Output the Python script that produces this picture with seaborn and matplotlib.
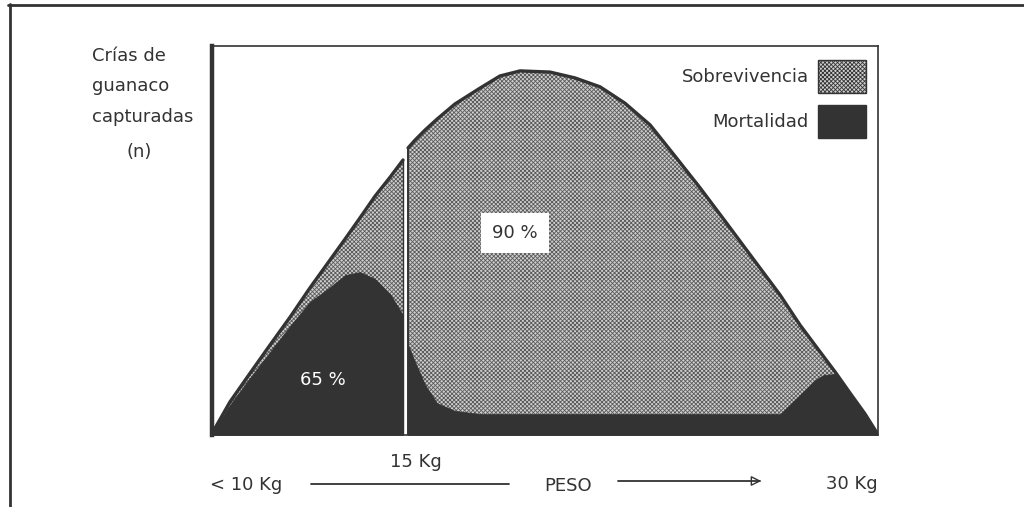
import matplotlib
matplotlib.use("Agg")
import matplotlib.pyplot as plt
import seaborn as sns
from matplotlib.patches import Patch
from matplotlib.lines import Line2D

# Datos (peso en kg, crias capturadas en escala relativa 0-100)
peso_izq = [8.87, 9.41, 10.05, 10.68, 11.32, 11.95, 12.59, 13.07, 13.54, 14.02, 14.50, 14.91]
total_izq = [0.8, 8.5, 15.9, 23.1, 30.3, 37.8, 45.0, 50.4, 55.8, 61.4, 66.3, 70.7]
mort_izq = [0.8, 7.7, 14.7, 21.3, 28.0, 34.2, 38.0, 41.1, 41.9, 40.1, 36.2, 30.8]

peso_der = [15.07, 15.29, 15.61, 15.99, 16.56, 17.36, 17.99, 18.63, 19.58, 20.37, 21.17,
            21.96, 22.76, 23.55, 24.35, 25.14, 25.94, 26.89, 27.52, 28.00, 28.26, 28.64,
            29.11, 29.59, 29.97]
total_der = [73.8, 75.8, 78.4, 81.2, 85.1, 89.2, 92.3, 93.6, 93.3, 91.8, 89.5,
             85.3, 79.7, 71.7, 63.5, 55.0, 46.3, 36.0, 28.3, 23.1, 20.3, 16.2,
             10.8, 5.4, 0.5]
mort_der = [23.1, 18.8, 12.9, 8.2, 6.2, 5.4, 5.4, 5.4, 5.4, 5.4, 5.4,
            5.4, 5.4, 5.4, 5.4, 5.4, 5.4, 5.4, 10.3, 14.1, 15.4, 15.7,
            10.8, 5.4, 0.5]

pct_mort = "65 %"
pct_sobre = "90 %"
etiquetas_leyenda = ["Sobrevivencia", "Mortalidad"]
ylabel_lineas = ["Crías de", "guanaco", "capturadas"]

OSCURO = "#333333"
CLARO = "#cfcfcf"
TRAMA = "xxxxxxxx"

sns.set_theme(style="white")
plt.rcParams["font.family"] = ["DejaVu Sans"]
plt.rcParams["hatch.linewidth"] = 0.6
plt.rcParams["hatch.color"] = "#5a5a5a"

W, H = 1024, 507
fig = plt.figure(figsize=(W / 100, H / 100), dpi=100)
fig.patch.set_facecolor("white")


def fx(p):
    return p / W


def fy(p):
    return 1 - p / H


ax = fig.add_axes([fx(212), fy(435), 666 / W, 389 / H])
ax.set_xlim(8.84, 30.0)
ax.set_ylim(0, 100)
ax.set_xticks([])
ax.set_yticks([])

# sobrevivencia (trama) y mortalidad (oscuro)
for xs, tot, mort in [(peso_izq, total_izq, mort_izq), (peso_der, total_der, mort_der)]:
    ax.fill_between(xs, 0, tot, facecolor=CLARO, hatch=TRAMA, edgecolor="#5a5a5a", linewidth=0)
    ax.fill_between(xs, 0, mort, facecolor=OSCURO, edgecolor=OSCURO, linewidth=0.5)
    sns.lineplot(x=xs, y=tot, color=OSCURO, linewidth=2.4, ax=ax, sort=False,
                 estimator=None, legend=False)

# bordes verticales a ambos lados del corte de 15 kg
ax.vlines(peso_izq[-1], 0, total_izq[-1], color=OSCURO, linewidth=1.0)
ax.vlines(peso_der[0], 0, total_der[0], color=OSCURO, linewidth=1.4)

for s in ["top", "right", "bottom"]:
    ax.spines[s].set_color(OSCURO)
    ax.spines[s].set_linewidth(1.2)
ax.spines["left"].set_color(OSCURO)
ax.spines["left"].set_linewidth(3.2)

ax.text(fx(323), fy(380), pct_mort, transform=fig.transFigure, color="white",
        fontsize=13, ha="center", va="center")
ax.text(fx(515), fy(233), pct_sobre, transform=fig.transFigure, color=OSCURO,
        fontsize=13, ha="center", va="center",
        bbox=dict(boxstyle="square,pad=0.6", facecolor="white", edgecolor="none"))

handles = [Patch(facecolor=CLARO, hatch=TRAMA, edgecolor=OSCURO, linewidth=1.0),
           Patch(facecolor=OSCURO, edgecolor=OSCURO)]
ax.legend(handles, etiquetas_leyenda, loc="upper right",
          bbox_to_anchor=(fx(866), fy(60)), bbox_transform=fig.transFigure,
          frameon=False, markerfirst=False, fontsize=13, handlelength=2.67,
          handleheight=2.4, handletextpad=0.5, labelspacing=0.7,
          borderpad=0, borderaxespad=0, labelcolor=OSCURO)

# rotulo del eje y
for txt, yb in zip(ylabel_lineas, [61, 91, 122]):
    fig.text(fx(92), fy(yb), txt, fontsize=13, color=OSCURO, ha="left", va="baseline")
fig.text(fx(139), fy(157), "(n)", fontsize=13, color=OSCURO, ha="center", va="baseline")

# eje de peso
fig.text(fx(416), fy(467), "15 Kg", fontsize=13, color=OSCURO, ha="center", va="baseline")
fig.text(fx(246), fy(490), "< 10 Kg", fontsize=13, color=OSCURO, ha="center", va="baseline")
fig.text(fx(568), fy(491), "PESO", fontsize=13, color=OSCURO, ha="center", va="baseline")
fig.text(fx(852), fy(489), "30 Kg", fontsize=13, color=OSCURO, ha="center", va="baseline")
fig.add_artist(Line2D([fx(311), fx(509)], [fy(484), fy(484)], color=OSCURO, linewidth=1.3))
fig.add_artist(Line2D([fx(618), fx(760)], [fy(481), fy(481)], color=OSCURO, linewidth=1.3))
plt.annotate("", xy=(764, H - 481), xytext=(752, H - 481), xycoords="figure pixels",
             textcoords="figure pixels",
             arrowprops=dict(arrowstyle="-|>,head_length=0.5,head_width=0.25",
                             facecolor="white", edgecolor=OSCURO, linewidth=1.0))

# marco exterior (solo arriba e izquierda)
fig.add_artist(Line2D([fx(8), 1.0], [fy(5), fy(5)], color=OSCURO, linewidth=2.0))
fig.add_artist(Line2D([fx(10), fx(10)], [fy(4), 0.0], color=OSCURO, linewidth=2.0))

fig.savefig("out.png", dpi=100, facecolor="white")
